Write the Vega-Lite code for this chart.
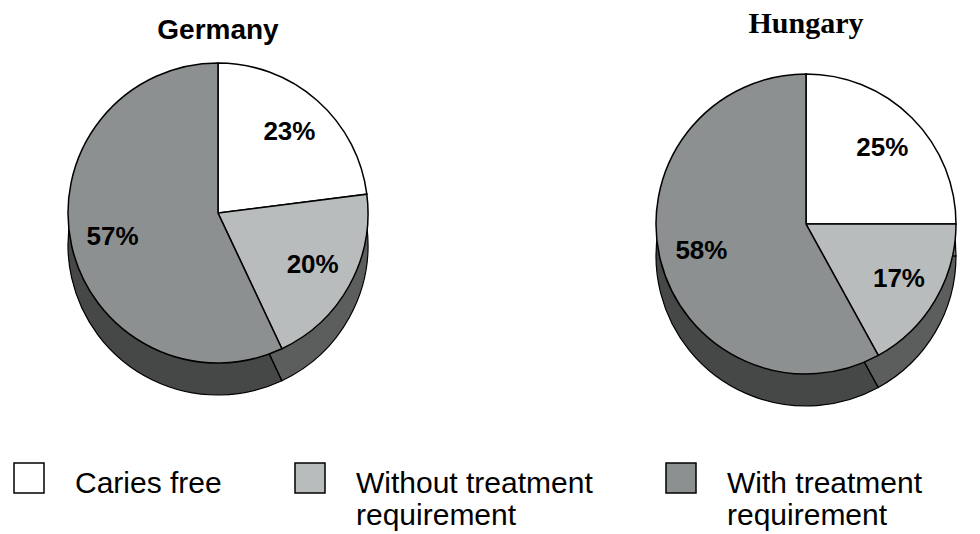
{
  "$schema": "https://vega.github.io/schema/vega-lite/v6.json",
  "padding": {"left": 0, "top": 9, "right": 0, "bottom": 0},
  "autosize": {"type": "pad"},
  "background": "white",
  "bounds": "flush",
  "spacing": 196,
  "config": {"view": {"stroke": null}},
  "datasets": {
    "teeth": [
      {"country": "Germany", "status": "Caries free", "idx": 1, "share": 0.23},
      {"country": "Germany", "status": "Without treatment requirement", "idx": 2, "share": 0.20},
      {"country": "Germany", "status": "With treatment requirement", "idx": 3, "share": 0.57},
      {"country": "Hungary", "status": "Caries free", "idx": 1, "share": 0.25},
      {"country": "Hungary", "status": "Without treatment requirement", "idx": 2, "share": 0.17},
      {"country": "Hungary", "status": "With treatment requirement", "idx": 3, "share": 0.58}
    ]
  },
  "data": {"name": "teeth"},
  "hconcat": [
    {
      "title": {"text": "Germany", "font": "Liberation Sans", "fontSize": 28, "fontWeight": "bold", "anchor": "middle", "offset": -17, "baseline": "alphabetic", "color": "black"},
      "width": 436,
      "height": 326,
      "transform": [{"filter": "datum.country == 'Germany'"}],
      "encoding": {
        "theta": {"field": "share", "type": "quantitative", "stack": true},
        "order": {"field": "idx", "type": "quantitative"}
      },
      "layer": [
        {
          "mark": {"type": "arc", "radius": 150, "yOffset": 32},
          "encoding": {
            "color": {"field": "status", "type": "nominal",
              "scale": {"domain": ["Caries free", "Without treatment requirement", "With treatment requirement"], "range": ["#ffffff", "#b8bcbd", "#8c9091"]},
              "legend": {
                "orient": "none", "legendX": 13, "legendY": 412, "direction": "horizontal", "columns": 3,
                "title": null, "symbolType": "square", "symbolSize": 900, "symbolStrokeColor": "black",
                "symbolStrokeWidth": 1.5, "symbolOpacity": 1, "labelFont": "Liberation Sans", "labelFontSize": 30,
                "labelColor": "black", "labelOffset": 30, "columnPadding": 70, "labelLimit": 500,
                "labelBaseline": "alphabetic", "padding": 0, "rowPadding": 0,
                "labelExpr": "indexof(datum.label, ' requirement') > 0 ? [replace(datum.label, ' requirement', ''), 'requirement'] : [datum.label, ' ']",
                "encode": {"labels": {"update": {"dy": {"value": 15}, "lineHeight": {"value": 32}}}}
              }
            }
          }
        },
        {
          "mark": {"type": "arc", "radius": 150, "yOffset": 32, "fill": "black", "fillOpacity": 0.5, "stroke": "black", "strokeWidth": 1.2},
          "encoding": {}
        },
        {
          "mark": {"type": "arc", "radius": 150, "stroke": "black", "strokeWidth": 1.5},
          "encoding": {"color": {"field": "status", "type": "nominal"}}
        },
        {
          "mark": {"type": "text", "radius": 108, "font": "Liberation Sans", "fontSize": 26, "fontWeight": "bold", "color": "black"},
          "encoding": {"text": {"field": "share", "type": "quantitative", "format": ".0%"}}
        }
      ]
    },
    {
      "title": {"text": "Hungary", "font": "Liberation Serif", "fontSize": 30, "fontWeight": "bold", "anchor": "middle", "offset": -13, "baseline": "alphabetic", "color": "black"},
      "width": 348,
      "height": 348,
      "transform": [{"filter": "datum.country == 'Hungary'"}],
      "encoding": {
        "theta": {"field": "share", "type": "quantitative", "stack": true},
        "order": {"field": "idx", "type": "quantitative"}
      },
      "layer": [
        {
          "mark": {"type": "arc", "radius": 150, "yOffset": 32},
          "encoding": {"color": {"field": "status", "type": "nominal"}}
        },
        {
          "mark": {"type": "arc", "radius": 150, "yOffset": 32, "fill": "black", "fillOpacity": 0.5, "stroke": "black", "strokeWidth": 1.2},
          "encoding": {}
        },
        {
          "mark": {"type": "arc", "radius": 150, "stroke": "black", "strokeWidth": 1.5},
          "encoding": {"color": {"field": "status", "type": "nominal"}}
        },
        {
          "mark": {"type": "text", "radius": 108, "font": "Liberation Sans", "fontSize": 26, "fontWeight": "bold", "color": "black"},
          "encoding": {"text": {"field": "share", "type": "quantitative", "format": ".0%"}}
        }
      ]
    }
  ]
}
